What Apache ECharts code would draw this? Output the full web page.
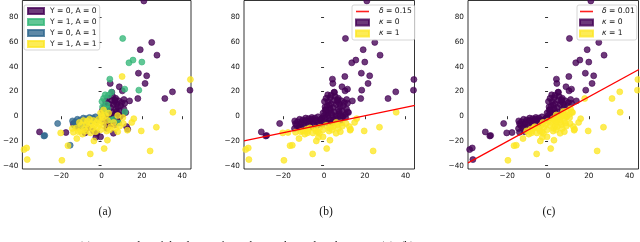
<!DOCTYPE html>
<html>
<head>
<meta charset="utf-8">
<script src="https://cdn.jsdelivr.net/npm/echarts@6/dist/echarts.min.js"></script>
<style>html,body{margin:0;padding:0;background:#fff;}#c{width:640px;height:242px;}</style>
</head>
<body>
<div id="c"></div>
<script>
// ---- data: [x, y, kappa in (b), kappa in (c)] ----
const categoriesYA = ['Y = 0, A = 0', 'Y = 1, A = 0', 'Y = 0, A = 1', 'Y = 1, A = 1'];
const kappaLabels = ['κ = 0', 'κ = 1'];
const deltaLabels = ['δ = 0.15', 'δ = 0.01'];
const panelLabels = ['(a)', '(b)', '(c)'];
const captionText = 'Figure 1: (a) Scatter plot of the dataset from the synthetic distribution D (4). (b) Separating';
const xTicks = [-20, 0, 20, 40];
const yTicks = [-40, -20, 0, 20, 40, 60, 80];
const xRange = [-39.3, 44.4];
const yRange = [-42.7, 93.6];

const yaGroup00 = [
  [21.0,93.2,0,0],[24.9,59.7,0,0],[19.2,53.8,0,0],[27.5,49.4,0,0],[18.3,34.8,0,0],[22.4,32.7,0,0],
  [21.6,26.5,0,0],[4.3,26.5,0,0],[8.8,23.8,0,0],[10.3,20.5,0,0],[35.2,19.7,0,1],[43.9,21.1,0,1],
  [31.4,14.3,0,1],[18.0,14.3,0,1],[13.9,12.4,0,0],[11.1,13.5,0,0],[13.0,-10.5,1,1],[-30.8,-12.7,0,0],
  [-17.7,-13.2,1,0],[-2.8,-17.0,1,1],[-0.5,-16.7,1,1],[-8.2,-13.5,1,1],[-14.0,-6.0,0,0],[-12.0,-8.5,0,0],
  [-7.0,-9.5,1,1],[-4.0,-12.0,1,1],
  [1.0,2.0,0,0],[1.5,8.0,0,0],[2.0,12.0,0,0],[2.5,-2.0,0,1],[3.0,5.0,0,0],[3.0,15.0,0,0],[3.5,10.0,0,0],
  [4.0,1.0,0,1],[4.0,-5.0,0,1],[4.5,7.0,0,0],[5.0,13.0,0,0],[5.0,3.5,0,0],[5.5,-1.0,0,1],[5.5,16.0,0,0],
  [6.0,9.5,0,0],[6.0,0.5,0,1],[6.5,12.0,0,0],[6.5,-7.0,1,1],[7.0,5.5,0,0],[7.0,14.5,0,0],[7.5,2.0,0,1],
  [7.5,10.0,0,0],[8.0,-3.5,0,1],[8.0,7.5,0,0],[8.5,12.5,0,0],[9.0,4.0,0,1],[9.0,-0.5,0,1],[9.5,8.5,0,0],
  [10.0,11.0,0,0],[10.5,1.5,0,1],[11.0,6.0,0,1],[11.5,10.5,0,0],[12.0,3.0,0,1],[5.1,19.4,0,0],
  [6.7,13.2,0,0],[7.5,3.8,0,1],[9.2,-0.3,0,1],[2.6,-9.7,1,1],[5.9,-13.8,1,1],[-2.3,-13.8,1,1],
  [12.4,-8.4,1,1],[3.5,-8.0,1,1],[1.5,-5.0,0,1],[0.5,5.0,0,0]
];
const yaGroup10 = [
  [10.5,62.9,0,0],[15.6,45.4,0,0],[13.6,43.2,0,0],[20.0,43.8,0,0],[4.1,30.0,0,0],[4.9,19.4,0,0],
  [11.5,21.9,0,0],[18.5,21.1,0,0],[1.8,17.3,0,0],[0.2,11.9,0,0],[2.6,9.2,0,0],[3.4,17.0,0,0],
  [1.0,14.5,0,0],[0.5,7.5,0,0],[3.0,6.0,0,0],[2.0,3.0,0,0],[4.5,-3.0,0,1],[11.6,3.5,0,1],
  [6.0,-2.5,0,1],[8.5,-5.5,1,1]
];
const yaGroup01 = [
  [-21.8,-5.9,0,0],[-28.6,-16.0,0,0],[-28.2,-15.6,0,0],[-15.6,-23.5,1,1],[-14.4,-3.8,0,0],
  [-13.0,-4.5,0,0],[-12.0,-2.5,0,0],[-10.5,-3.0,0,0],[-9.0,-1.5,0,0],[-7.5,-2.0,0,0],[-6.0,-1.0,0,0],
  [-4.5,-1.5,0,0],[-3.0,-0.5,0,0],[-11.5,-6.5,0,0],[-8.0,-5.0,0,0],[-5.5,-4.0,0,0],[-2.0,-3.0,0,0],
  [-13.5,-7.5,0,0],[-1.0,-1.5,0,0],[-9.5,-8.5,0,0]
];
const yaGroup11 = [
  [44.1,29.7,0,1],[10.2,32.1,0,0],[35.4,3.2,1,1],[27.2,-8.9,1,1],[19.7,-11.9,1,1],[24.1,-28.1,1,1],
  [10.8,-5.9,1,1],[12.8,-11.3,1,1],[10.6,-1.1,0,1],[2.9,-19.4,1,1],[1.3,-26.2,1,1],[-3.8,-20.0,1,1],
  [-5.6,-30.5,1,1],[-19.7,-35.7,1,1],[-36.9,-35.1,1,0],[-37.2,-25.7,1,0],[-38.5,-27.0,1,0],
  [-20.3,-13.5,1,0],[-16.7,-23.8,1,1],[-12.3,-18.1,1,1],[-10.5,-11.9,1,1],
  [-12.5,-9.5,0,0],[-11.0,-5.0,0,0],[-10.0,-7.0,0,0],[-9.0,-3.5,0,0],[-8.5,-10.5,1,1],[-7.5,-6.5,0,0],
  [-7.0,-4.0,0,0],[-6.5,-8.5,0,1],[-6.0,-2.5,0,0],[-5.0,-6.0,0,0],[-4.5,-10.0,1,1],[-4.0,-3.5,0,0],
  [-3.5,-7.5,0,1],[-3.0,-12.5,1,1],[-2.5,-5.0,0,1],[-2.0,-9.0,1,1],[-1.5,-2.5,0,0],[-1.0,-6.5,0,1],
  [-0.5,-11.0,1,1],[0.0,-4.0,0,1],[-8.0,-12.0,1,1],[-5.5,-13.5,1,1],[-14.5,-10.0,0,0],[-11.5,-12.5,1,0],
  [1.0,5.1,0,0],[0.5,-1.0,0,0],[2.0,0.5,0,0],[3.0,-3.5,0,1],[1.0,-7.5,1,1],[4.5,-8.5,1,1],
  [6.0,-5.0,1,1],[7.0,-10.0,1,1],[9.0,-8.0,1,1],[3.5,2.5,0,0],[2.5,-12.0,1,1],[0.0,0.5,0,0],
  [-0.5,2.5,0,0],[8.0,0.5,0,1],[-14.0,-13.0,1,0],[-9.5,-14.5,1,1],[4.0,-11.0,1,1],[8.0,-12.5,1,1],
  [15.0,-5.0,1,1],[16.0,-2.0,1,1]
];
// separating lines, endpoints read at the plot edges
const lineB = [[-39.3,-20.0],[44.6,8.7]];
const lineC = [[-39.3,-37.8],[44.6,37.8]];

// ---- rendering ----
const groupsYA = [yaGroup00, yaGroup10, yaGroup01, yaGroup11];
const colorsYA = ['#440154', '#35b779', '#31688e', '#fde725'];
const colorsK = ['#440154', '#fde725'];
const allPts = [].concat(yaGroup00, yaGroup10, yaGroup01, yaGroup11);
const FONT = 'DejaVu Sans';
const minus = v => String(v).replace('-', '\u2212');
const lineIcon = 'path://M0,0 L0,0 M0,2.2 L13,2.2 L13,3.8 L0,3.8 Z M13,6 L13,6';

const grids = [
  {left: 20, top: 0.5, width: 171, height: 168.5},
  {left: 244, top: 0.5, width: 170.5, height: 168.5},
  {left: 468, top: 0.5, width: 170.5, height: 168.5}
].map(g => Object.assign(g, {show: true, borderColor: '#000', borderWidth: 0.8, backgroundColor: 'transparent'}));

function xAx(i) {
  return {type: 'value', gridIndex: i, min: xRange[0], max: xRange[1], splitLine: {show: false},
    axisLine: {show: false},
    axisTick: {show: true, length: 3, inside: false, customValues: xTicks, lineStyle: {color: '#000', width: 0.8}},
    axisLabel: {customValues: xTicks, formatter: minus, fontSize: 7.3, fontFamily: FONT, color: '#111', margin: 4}};
}
function yAx(i) {
  return {type: 'value', gridIndex: i, min: yRange[0], max: yRange[1], splitLine: {show: false},
    axisLine: {show: false},
    axisTick: {show: true, length: 3, inside: false, customValues: yTicks, lineStyle: {color: '#000', width: 0.8}},
    axisLabel: {customValues: yTicks, formatter: minus, fontSize: 7.3, fontFamily: FONT, color: '#111', margin: 4}};
}
function scat(name, data, color, idx) {
  return {type: 'scatter', name: name, xAxisIndex: idx, yAxisIndex: idx, data: data.map(p => [p[0], p[1]]),
    symbolSize: 6, itemStyle: {color: color, opacity: 0.78, borderColor: color, borderWidth: 0.8}, z: 2};
}
const series = [];
groupsYA.forEach((g, i) => series.push(scat(categoriesYA[i], g, colorsYA[i], 0)));
[0, 1].forEach(k => series.push(scat(kappaLabels[k], allPts.filter(p => p[2] === k), colorsK[k], 1)));
[0, 1].forEach(k => series.push(scat(kappaLabels[k], allPts.filter(p => p[3] === k), colorsK[k], 2)));
[[lineB, 1], [lineC, 2]].forEach(([ln, idx], j) => series.push({
  type: 'line', name: deltaLabels[j], xAxisIndex: idx, yAxisIndex: idx, data: ln, symbol: 'none', showSymbol: false,
  clip: true, lineStyle: {color: '#ff0000', width: 1.3}, itemStyle: {color: '#ff0000'}, z: 5
}));

const richFmt = name => {
  const c = name.charAt(0);
  if (c === 'δ' || c === 'κ') return '{i|' + c + '}{n|' + name.slice(1) + '}';
  return name;
};
const legendText = pad => ({fontSize: 7.6, fontFamily: FONT, color: '#111', lineHeight: 9, padding: [0, 0, 0, pad],
  rich: {i: {fontStyle: 'italic', fontSize: 7.6, fontFamily: FONT, color: '#111'}, n: {fontSize: 7.6, fontFamily: FONT, color: '#111'}}});
const legendBase = {orient: 'vertical', itemGap: 2, backgroundColor: 'rgba(255,255,255,0.85)', borderColor: '#cccccc',
  borderWidth: 0.8, borderRadius: 2, selectedMode: false, top: 5};
const deltaItem = n => ({name: n, icon: lineIcon, itemStyle: {color: '#ff2020', borderWidth: 0}, lineStyle: {width: 0, opacity: 0}});
const legends = [
  Object.assign({}, legendBase, {left: 24, itemWidth: 16, itemHeight: 6, padding: [1.5, 3, 1.5, 3],
    textStyle: legendText(1), data: categoriesYA.map(n => ({name: n, icon: 'rect'}))}),
  Object.assign({}, legendBase, {left: 352, itemWidth: 13, itemHeight: 6, padding: [2, 3, 2, 3], formatter: richFmt,
    textStyle: legendText(5), data: [deltaItem(deltaLabels[0]), {name: kappaLabels[0], icon: 'rect'}, {name: kappaLabels[1], icon: 'rect'}]}),
  Object.assign({}, legendBase, {left: 577, itemWidth: 13, itemHeight: 6, padding: [2, 2, 2, 2], formatter: richFmt,
    textStyle: legendText(4), data: [deltaItem(deltaLabels[1]), {name: kappaLabels[0], icon: 'rect'}, {name: kappaLabels[1], icon: 'rect'}]})
];

const labelX = [105, 326, 549];
const graphics = panelLabels.map((t, i) => ({type: 'text', x: labelX[i], y: 212,
  style: {text: t, fontSize: 11.5, fontFamily: 'Liberation Serif', fill: '#111', textAlign: 'center', textVerticalAlign: 'middle'}}));
graphics.push({type: 'text', x: 32, y: 240.5, style: {text: captionText, fontSize: 12, fontFamily: 'Liberation Serif', fill: '#222', textAlign: 'left', textVerticalAlign: 'top'}});

const chart = echarts.init(document.getElementById('c'), null, {renderer: 'canvas'});
chart.setOption({
  animation: false,
  backgroundColor: '#fff',
  grid: grids,
  xAxis: [0, 1, 2].map(xAx),
  yAxis: [0, 1, 2].map(yAx),
  legend: legends,
  series: series,
  graphic: graphics
});
</script>
</body>
</html>
